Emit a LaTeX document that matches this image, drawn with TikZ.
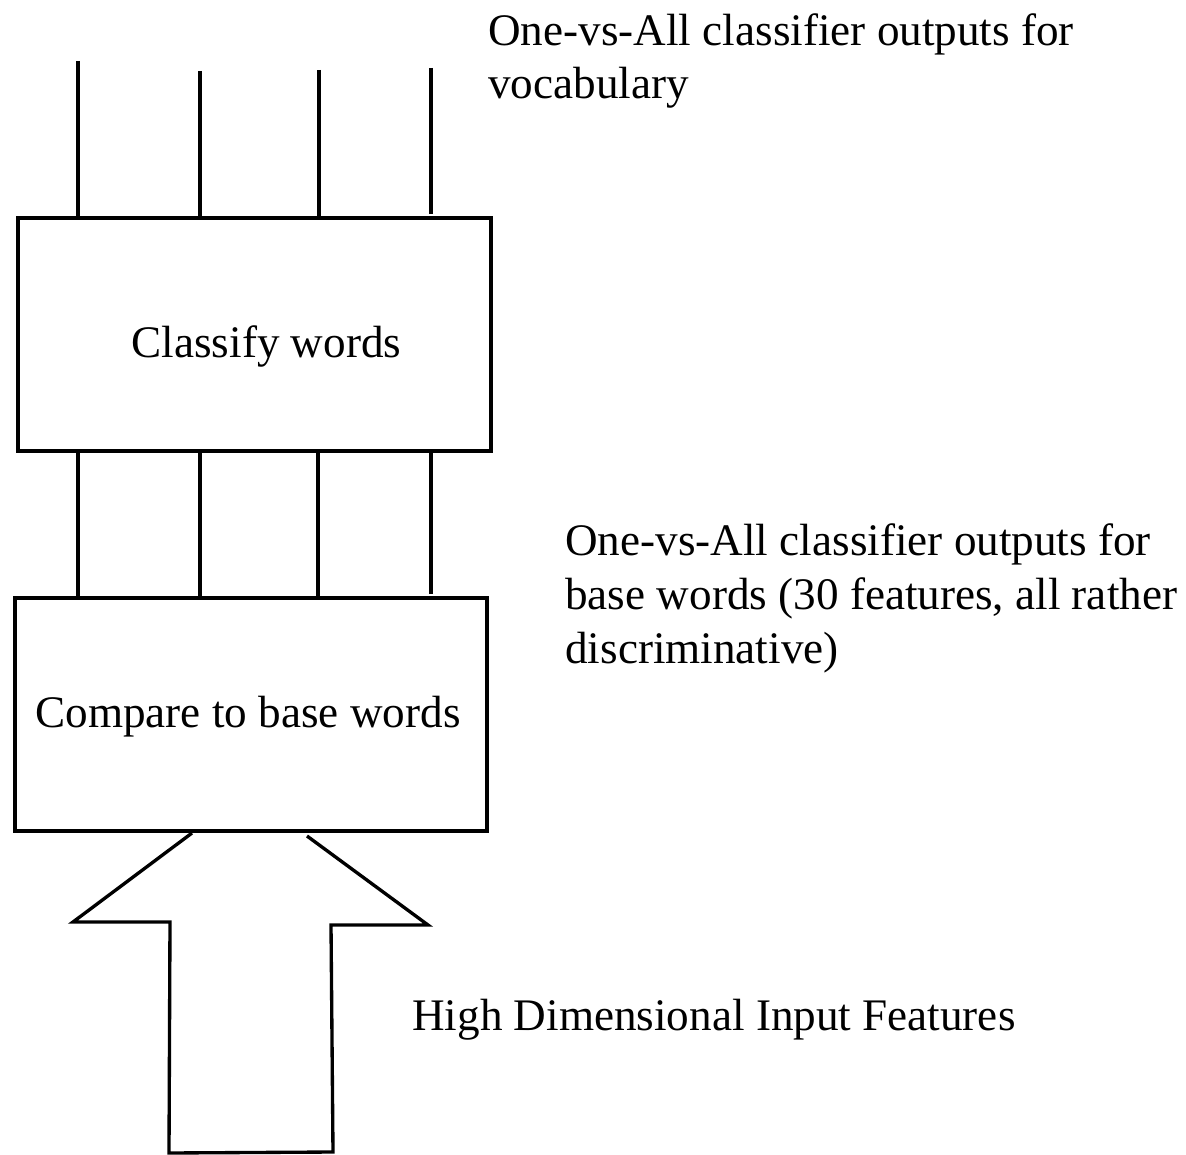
\documentclass[tikz,border=0pt]{standalone}
\usepackage{fontspec}
\setmainfont{Liberation Serif}
\begin{document}
\begin{tikzpicture}[x=0.02cm,y=-0.02cm,
  ln/.style={line width=1.9pt, line cap=butt},
  box/.style={draw, line width=1.9pt, inner sep=0pt, font=\fontsize{25.7}{30.5}\selectfont},
  lab/.style={inner sep=0pt, align=left, font=\fontsize{25.7}{30.5}\selectfont}]
\useasboundingbox (0,0) rectangle (1186,1155);
% boxes
\node[box, minimum width=473*0.02cm, minimum height=233*0.02cm,
  label={[font=\fontsize{25.7}{30.5}\selectfont, xshift=12*0.02cm, yshift=-12*0.02cm]center:Classify words}]
  (cls) at (254.5,334.5) {};
\node[box, minimum width=472*0.02cm, minimum height=233*0.02cm,
  label={[font=\fontsize{25.7}{30.5}\selectfont, xshift=-3*0.02cm, yshift=-2*0.02cm]center:Compare to base words}]
  (cmp) at (251,714.5) {};
% output lines above classify box
\coordinate (o1) at (78,61);
\coordinate (o2) at (200,71);
\coordinate (o3) at (319,70);
\coordinate (o4) at (431,68);
\draw[ln] (o1) -- (o1 |- cls.north);
\draw[ln] (o2) -- (o2 |- cls.north);
\draw[ln] (o3) -- (o3 |- cls.north);
\draw[ln] (o4) -- (431,214);
% lines between boxes
\draw[ln] (cls.south -| o1) -- (cmp.north -| o1);
\draw[ln] (cls.south -| o2) -- (cmp.north -| o2);
\draw[ln] (cls.south -| 318,0) -- (cmp.north -| 318,0);
\draw[ln] (cls.south -| o4) -- (431,594);
% big input arrow
\draw[ln, line join=miter] (192,833) -- (73,922) -- (170,922) -- (169,1153) -- (333,1152) -- (331,925) -- (428,925) -- (307,836);
% labels
\node[lab, anchor=base west] (t1) at (488,99) {One-vs-All classifier outputs for\\vocabulary};
\node[lab, anchor=base west] (t2) at (565,663) {One-vs-All classifier outputs for\\base words (30 features, all rather\\discriminative)};
\node[lab, anchor=base west] (t3) at (412,1030) {High Dimensional Input Features};
\end{tikzpicture}
\end{document}
